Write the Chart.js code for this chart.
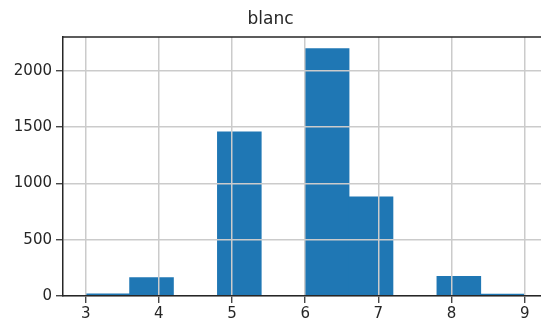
<!DOCTYPE html>
<html>
<head>
<meta charset="utf-8">
<script src="https://cdn.jsdelivr.net/npm/chart.js@4/dist/chart.umd.min.js"></script>
<style>
  html, body { margin: 0; padding: 0; background: #fff; }
  #c { display: block; }
</style>
</head>
<body>
<canvas id="c" width="541" height="320"></canvas>
<script>
// histogram of quality for white wine, 10 bins between 3 and 9
const chartTitle = 'blanc';
const binCenters = [3.3, 3.9, 4.5, 5.1, 5.7, 6.3, 6.9, 7.5, 8.1, 8.7];
const counts = [20, 163, 0, 1457, 0, 2198, 880, 0, 175, 5];
const xTicks = [3, 4, 5, 6, 7, 8, 9];
const yTicks = [0, 500, 1000, 1500, 2000];

const ink = '#262626';

// top spine (matplotlib frame), right one is cropped off
const topSpine = {
  id: 'topSpine',
  afterDraw(chart) {
    const { ctx, chartArea } = chart;
    ctx.save();
    ctx.strokeStyle = ink;
    ctx.lineWidth = 1.5;
    ctx.beginPath();
    ctx.moveTo(chartArea.left, chartArea.top);
    ctx.lineTo(chartArea.right, chartArea.top);
    ctx.stroke();
    ctx.restore();
  }
};

new Chart(document.getElementById('c'), {
  type: 'bar',
  data: {
    datasets: [{
      // empty bins are left out so minBarLength only lifts the tiny ones
      data: binCenters.map((x, i) => ({ x: x, y: counts[i] || null })),
      backgroundColor: '#1f77b4',
      borderWidth: 0,
      minBarLength: 2,
      barPercentage: 1,
      categoryPercentage: 1
    }]
  },
  options: {
    responsive: false,
    animation: false,
    layout: { padding: { left: 0, right: 0, top: 0, bottom: 0 } },
    plugins: {
      legend: { display: false },
      tooltip: { enabled: false },
      title: {
        display: true,
        text: chartTitle,
        color: ink,
        font: { family: 'DejaVu Sans', size: 17, weight: 'normal' },
        padding: { top: 9, bottom: 7.6 }
      }
    },
    scales: {
      x: {
        type: 'linear',
        offset: false,
        min: 2.69,
        max: 9.223,
        afterBuildTicks: s => { s.ticks = xTicks.map(v => ({ value: v })); },
        afterFit: s => { s.height = 24; },
        grid: { offset: false, color: '#cbcbcb', lineWidth: 1.5, z: 1, tickLength: 7, tickColor: ink, tickWidth: 1.2 },
        border: { color: ink, width: 1.5, z: 2 },
        ticks: { color: ink, font: { family: 'DejaVu Sans', size: 15 }, padding: 2, maxRotation: 0, callback: v => String(v) }
      },
      y: {
        min: 0,
        max: 2300,
        afterBuildTicks: s => { s.ticks = yTicks.map(v => ({ value: v })); },
        afterFit: s => { s.width = 63; },
        grid: { color: '#cbcbcb', lineWidth: 1.5, z: 1, tickLength: 7, tickColor: ink, tickWidth: 1.2 },
        border: { color: ink, width: 1.5, z: 2 },
        ticks: { color: ink, font: { family: 'DejaVu Sans', size: 15 }, padding: 4, callback: v => String(v) }
      }
    }
  },
  plugins: [topSpine]
});
</script>
</body>
</html>
